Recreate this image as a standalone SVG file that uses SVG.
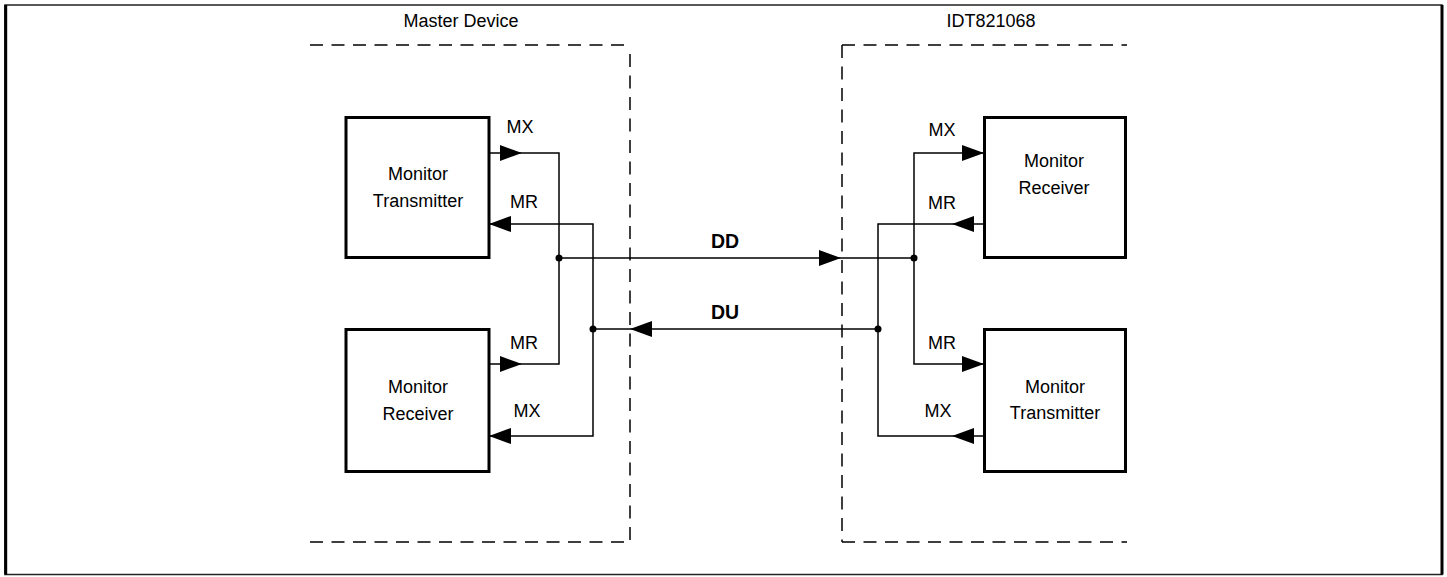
<svg xmlns="http://www.w3.org/2000/svg" width="1447" height="577" viewBox="0 0 1447 577">
<style>
text{font-family:"Liberation Sans",Arial,sans-serif;font-size:18px;fill:#000;text-anchor:middle}
.b{font-weight:bold;font-size:19.5px}
.box{fill:#fff;stroke:#000;stroke-width:3}
.dash{fill:none;stroke:#000;stroke-width:1.5;stroke-dasharray:13 8.5}
.w{fill:none;stroke:#000;stroke-width:1.5}
</style>
<defs>
<path id="ah" d="M0,0 L-22,-8 L-22,8 Z" fill="#000"/>
</defs>
<rect x="5" y="5" width="1437" height="569.5" fill="#fff" stroke="#222" stroke-width="1.5"/>
<line x1="5.7" y1="5" x2="5.7" y2="574.5" stroke="#000" stroke-width="3"/>
<line x1="1442" y1="5" x2="1442" y2="574.5" stroke="#000" stroke-width="3"/>
<g id="master-device">
<path class="dash" d="M310,45 H630"/>
<path class="dash" d="M630,54 V542"/>
<path class="dash" d="M310,542 H630"/>
<text x="461" y="27">Master Device</text>
</g>
<g id="idt821068">
<path class="dash" d="M842,45 H1127"/>
<path class="dash" d="M842,45 V542"/>
<path class="dash" d="M842,542 H1127"/>
<text x="991" y="27">IDT821068</text>
</g>
<g id="connectors">
<path class="w" d="M489,153 H559 V364 H489"/>
<path class="w" d="M489,224 H593 V436 H489"/>
<path class="w" d="M559,258 H914"/>
<path class="w" d="M593,329 H878"/>
<path class="w" d="M984,153 H914 V364 H984"/>
<path class="w" d="M984,224 H878 V436 H984"/>
<circle cx="559" cy="258" r="3.5"/>
<circle cx="593" cy="329" r="3.5"/>
<circle cx="914" cy="258" r="3.5"/>
<circle cx="878" cy="329" r="3.5"/>
<use href="#ah" transform="translate(522,153)"/>
<use href="#ah" transform="translate(489,224) rotate(180)"/>
<use href="#ah" transform="translate(522,364)"/>
<use href="#ah" transform="translate(489,436) rotate(180)"/>
<use href="#ah" transform="translate(841,258)"/>
<use href="#ah" transform="translate(630,329) rotate(180)"/>
<use href="#ah" transform="translate(984,153)"/>
<use href="#ah" transform="translate(952,224) rotate(180)"/>
<use href="#ah" transform="translate(984,364)"/>
<use href="#ah" transform="translate(952,436) rotate(180)"/>
<text x="520" y="133">MX</text>
<text x="524" y="208">MR</text>
<text x="524" y="349">MR</text>
<text x="527" y="417">MX</text>
<text x="942" y="136">MX</text>
<text x="942" y="209">MR</text>
<text x="942" y="349">MR</text>
<text x="938" y="417">MX</text>
<text class="b" x="725" y="248">DD</text>
<text class="b" x="725" y="319">DU</text>
</g>
<g id="master-monitor-transmitter">
<rect class="box" x="346" y="117.5" width="143" height="140"/>
<text x="418" y="180">Monitor</text>
<text x="418" y="207">Transmitter</text>
</g>
<g id="master-monitor-receiver">
<rect class="box" x="346" y="329.5" width="143" height="142"/>
<text x="418" y="393">Monitor</text>
<text x="418" y="420">Receiver</text>
</g>
<g id="idt-monitor-receiver">
<rect class="box" x="984.5" y="117.5" width="141" height="140"/>
<text x="1054" y="167">Monitor</text>
<text x="1054" y="194">Receiver</text>
</g>
<g id="idt-monitor-transmitter">
<rect class="box" x="984.5" y="329.5" width="141" height="142"/>
<text x="1055" y="393">Monitor</text>
<text x="1055" y="419">Transmitter</text>
</g>
</svg>
